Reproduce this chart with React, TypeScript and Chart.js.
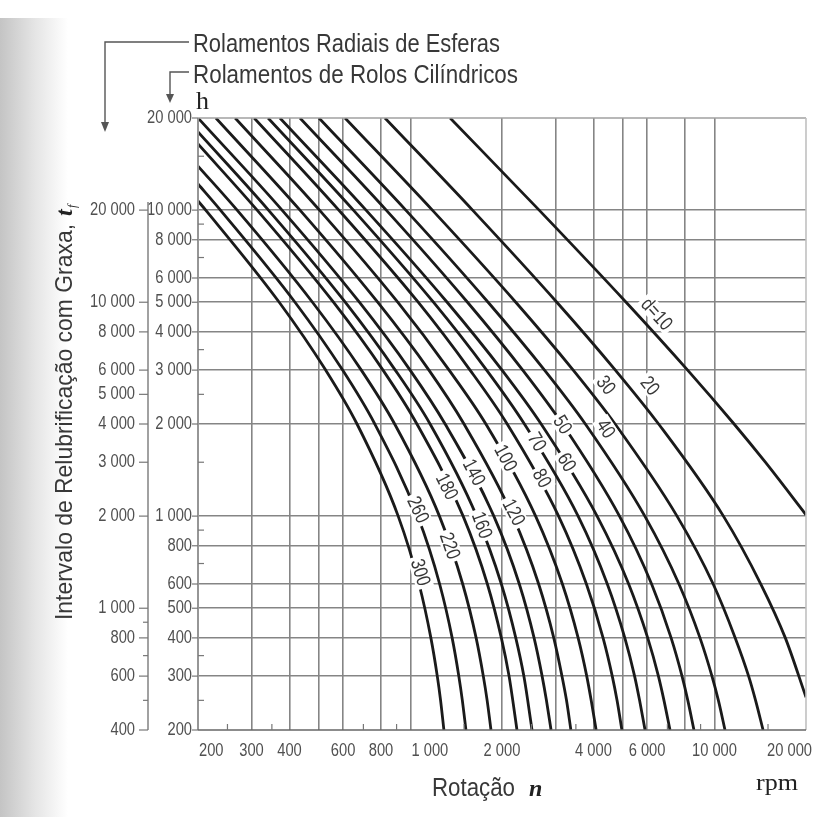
import React, { useEffect, useRef } from "react";
import { Chart, registerables } from "chart.js";

Chart.register(...registerables);

// Curve labels (bearing bore d, mm)
const curveLabels = ["d=10", "20", "30", "40", "50", "60", "70", "80", "100", "120", "140", "160", "180", "220", "260", "300"];

// Each curve: [rotation n (rpm), relubrication interval (h, cylindrical roller scale)]
const curveD10 = [[1350, 20000], [2650, 10000], [5120, 5000], [8160, 3000], [11600, 2000], [14700, 1500], [20000, 1010]];
const curveD20 = [[824, 20000], [1600, 10000], [3030, 5000], [4720, 3000], [6550, 2000], [10700, 1000], [14200, 600], [17100, 400], [20000, 256]];
const curveD30 = [[609, 20000], [1180, 10000], [2220, 5000], [3430, 3000], [4710, 2000], [7530, 1000], [9900, 600], [11700, 400], [12950, 300], [13650, 250], [14450, 200]];
const curveD40 = [[500, 20000], [965, 10000], [1800, 5000], [2760, 3000], [3760, 2000], [5900, 1000], [7640, 600], [8960, 400], [9810, 300], [10300, 250], [10830, 200]];
const curveD50 = [[433, 20000], [832, 10000], [1540, 5000], [2340, 3000], [3160, 2000], [4870, 1000], [6210, 600], [7200, 400], [7820, 300], [8170, 250], [8560, 200]];
const curveD60 = [[372, 20000], [714, 10000], [1320, 5000], [2000, 3000], [2690, 2000], [4110, 1000], [5220, 600], [6030, 400], [6540, 300], [6820, 250], [7140, 200]];
const curveD70 = [[340, 20000], [649, 10000], [1190, 5000], [1780, 3000], [2370, 2000], [3560, 1000], [4440, 600], [5070, 400], [5460, 300], [5670, 250], [5910, 200]];
const curveD80 = [[306, 20000], [581, 10000], [1060, 5000], [1570, 3000], [2080, 2000], [3070, 1000], [3790, 600], [4300, 400], [4610, 300], [4780, 250], [4960, 200]];
const curveD100 = [[265, 20000], [502, 10000], [908, 5000], [1340, 3000], [1770, 2000], [2580, 1000], [3160, 600], [3560, 400], [3800, 300], [3930, 250], [4080, 200]];
const curveD120 = [[229, 20000], [433, 10000], [780, 5000], [1150, 3000], [1500, 2000], [2170, 1000], [2640, 600], [2960, 400], [3150, 300], [3260, 250], [3370, 200]];
const curveD140 = [[200, 20000], [378, 10000], [679, 5000], [997, 3000], [1300, 2000], [1880, 1000], [2280, 600], [2550, 400], [2710, 300], [2800, 250], [2900, 200]];
const curveD160 = [[200, 18000], [341, 10000], [610, 5000], [891, 3000], [1160, 2000], [1650, 1000], [1990, 600], [2220, 400], [2360, 300], [2430, 250], [2510, 200]];
const curveD180 = [[200, 16450], [313, 10000], [558, 5000], [812, 3000], [1050, 2000], [1490, 1000], [1790, 600], [1990, 400], [2110, 300], [2170, 250], [2240, 200]];
const curveD220 = [[200, 13930], [269, 10000], [476, 5000], [689, 3000], [887, 2000], [1245, 1000], [1485, 600], [1644, 400], [1736, 300], [1787, 250], [1840, 200]];
const curveD260 = [[200, 12170], [237, 10000], [417, 5000], [598, 3000], [763, 2000], [1056, 1000], [1247, 600], [1371, 400], [1442, 300], [1481, 250], [1522, 200]];
const curveD300 = [[200, 10710], [212, 10000], [370, 5000], [526, 3000], [667, 2000], [911, 1000], [1067, 600], [1167, 400], [1225, 300], [1256, 250], [1288, 200]];

const curves = [curveD10, curveD20, curveD30, curveD40, curveD50, curveD60, curveD70, curveD80, curveD100, curveD120, curveD140, curveD160, curveD180, curveD220, curveD260, curveD300];

// Where each curve label sits (rpm, h)
const labelRpm = [6470, 6140, 4400, 4400, 3170, 3270, 2610, 2710, 2060, 2190, 1620, 1720, 1320, 1350, 1060, 1080];
const labelHours = [4580, 2670, 2680, 1930, 1990, 1500, 1750, 1330, 1550, 1030, 1390, 935, 1250, 800, 1050, 655];

// Axes
const gridValues = [300, 400, 500, 600, 800, 1000, 2000, 3000, 4000, 5000, 6000, 8000, 10000];
const minorValues = [250, 350, 700, 900, 1500, 2500, 3500, 7000, 9000, 15000];
const xTickValues = [200, 300, 400, 600, 800, 1000, 2000, 4000, 6000, 10000, 20000];
const xTickLabels = ["200", "300", "400", "600", "800", "1 000", "2 000", "4 000", "6 000", "10 000", "20 000"];
const yTickValues = [20000, 10000, 8000, 6000, 5000, 4000, 3000, 2000, 1000, 800, 600, 500, 400, 300, 200];
const yTickLabels = ["20 000", "10 000", "8 000", "6 000", "5 000", "4 000", "3 000", "2 000", "1 000", "800", "600", "500", "400", "300", "200"];
// Radial ball bearing scale (twice the cylindrical roller bearing interval)
const outerTickValues = [20000, 10000, 8000, 6000, 5000, 4000, 3000, 2000, 1000, 800, 600, 400];
const outerTickLabels = ["20 000", "10 000", "8 000", "6 000", "5 000", "4 000", "3 000", "2 000", "1 000", "800", "600", "400"];
const outerMinorValues = [900, 700, 500];
const outerFactor = 2;

const SANS = '"Liberation Sans", Arial, sans-serif';
const SERIF = '"Liberation Serif", "Times New Roman", serif';

function drawText(ctx: CanvasRenderingContext2D, text: string, x: number, y: number, font: string, sx: number, align: string) {
  ctx.save();
  ctx.font = font;
  const w = ctx.measureText(text).width * sx;
  let x0 = x;
  if (align === "center") x0 = x - w / 2;
  else if (align === "right") x0 = x - w;
  ctx.translate(x0, y);
  ctx.scale(sx, 1);
  ctx.textAlign = "left";
  ctx.fillText(text, 0, 0);
  ctx.restore();
  return w;
}

function fitScale(ctx: CanvasRenderingContext2D, text: string, font: string, width: number) {
  ctx.save();
  ctx.font = font;
  const w = ctx.measureText(text).width;
  ctx.restore();
  return width / w;
}

const decorPlugin = {
  id: "decor",
  beforeDraw(chart: any) {
    const ctx = chart.ctx as CanvasRenderingContext2D;
    ctx.save();
    ctx.fillStyle = "#ffffff";
    ctx.fillRect(0, 0, chart.width, chart.height);
    const g = ctx.createLinearGradient(0, 0, 68, 0);
    g.addColorStop(0, "#c4c4c4");
    g.addColorStop(0.5, "#e4e4e4");
    g.addColorStop(1, "#ffffff");
    ctx.fillStyle = g;
    ctx.fillRect(0, 18, 68, chart.height - 18);
    ctx.restore();
  },
  afterDraw(chart: any) {
    const ctx = chart.ctx as CanvasRenderingContext2D;
    const xs = chart.scales.x;
    const ys = chart.scales.y;
    const { left, right, top, bottom } = chart.chartArea;
    ctx.save();

    // frame
    ctx.strokeStyle = "#a0a0a0";
    ctx.lineWidth = 1.6;
    ctx.beginPath();
    ctx.moveTo(left, top);
    ctx.lineTo(right, top);
    ctx.stroke();
    ctx.strokeStyle = "#c0c0c0";
    ctx.beginPath();
    ctx.moveTo(right, top);
    ctx.lineTo(right, bottom);
    ctx.stroke();
    ctx.strokeStyle = "#969696";
    ctx.lineWidth = 2;
    ctx.beginPath();
    ctx.moveTo(left, top);
    ctx.lineTo(left, bottom);
    ctx.stroke();
    ctx.strokeStyle = "#666";
    ctx.lineWidth = 1.6;
    ctx.beginPath();
    ctx.moveTo(left, bottom);
    ctx.lineTo(right, bottom);
    ctx.stroke();

    // minor ticks inside
    ctx.strokeStyle = "#777";
    ctx.lineWidth = 1.2;
    minorValues.forEach((v) => {
      const py = ys.getPixelForValue(v);
      ctx.beginPath();
      ctx.moveTo(left, py);
      ctx.lineTo(left + 6, py);
      ctx.stroke();
      const px = xs.getPixelForValue(v);
      ctx.beginPath();
      ctx.moveTo(px, bottom);
      ctx.lineTo(px, bottom - 6);
      ctx.stroke();
    });

    // tick label font
    const tickFont = `18px ${SANS}`;
    const tsx = fitScale(ctx, "10 000", tickFont, 45);
    ctx.fillStyle = "#505050";
    ctx.textBaseline = "middle";

    // inner y axis
    yTickValues.forEach((v, i) => {
      const py = ys.getPixelForValue(v);
      ctx.strokeStyle = "#777";
      ctx.lineWidth = 1.2;
      ctx.beginPath();
      ctx.moveTo(left - 6, py);
      ctx.lineTo(left, py);
      ctx.stroke();
      drawText(ctx, yTickLabels[i], left - 6, py, tickFont, tsx, "right");
    });

    // outer y axis (ball bearings)
    const ox = 148;
    const oTop = ys.getPixelForValue(outerTickValues[0] / outerFactor) - 8;
    ctx.strokeStyle = "#8a8a8a";
    ctx.lineWidth = 1.6;
    ctx.beginPath();
    ctx.moveTo(ox, oTop);
    ctx.lineTo(ox, bottom);
    ctx.stroke();
    outerTickValues.forEach((v, i) => {
      const py = ys.getPixelForValue(v / outerFactor);
      ctx.strokeStyle = "#777";
      ctx.lineWidth = 1.2;
      ctx.beginPath();
      ctx.moveTo(ox - 9, py);
      ctx.lineTo(ox, py);
      ctx.stroke();
      drawText(ctx, outerTickLabels[i], ox - 13, py, tickFont, tsx, "right");
    });
    outerMinorValues.forEach((v) => {
      const py = ys.getPixelForValue(v / outerFactor);
      ctx.beginPath();
      ctx.moveTo(ox - 5, py);
      ctx.lineTo(ox, py);
      ctx.stroke();
    });

    // x axis labels
    ctx.textBaseline = "alphabetic";
    xTickValues.forEach((v, i) => {
      const px = xs.getPixelForValue(v);
      let align = "center";
      let x = px;
      if (i === 0) { align = "left"; x = px + 1; }
      else if (v === 1000) { align = "left"; x = px + 1; }
      else if (i === xTickValues.length - 1) { align = "right"; x = px + 6; }
      drawText(ctx, xTickLabels[i], x, bottom + 26, tickFont, tsx, align);
    });

    // curve labels
    const labFont = `20px ${SANS}`;
    const lsx = 0.8;
    curveLabels.forEach((lab, i) => {
      const pts = curves[i];
      const lx = xs.getPixelForValue(labelRpm[i]);
      const ly = ys.getPixelForValue(labelHours[i]);
      let ang = Math.PI / 4;
      for (let k = 0; k < pts.length - 1; k++) {
        if (labelHours[i] <= pts[k][1] && labelHours[i] >= pts[k + 1][1]) {
          const x1 = xs.getPixelForValue(pts[k][0]);
          const y1 = ys.getPixelForValue(pts[k][1]);
          const x2 = xs.getPixelForValue(pts[k + 1][0]);
          const y2 = ys.getPixelForValue(pts[k + 1][1]);
          ang = Math.atan2(y2 - y1, x2 - x1);
        }
      }
      ctx.save();
      ctx.translate(lx, ly);
      ctx.rotate(ang);
      ctx.font = labFont;
      const w = ctx.measureText(lab).width * lsx;
      ctx.fillStyle = "#ffffff";
      ctx.fillRect(-w / 2 - 3, -9, w + 6, 18);
      ctx.fillStyle = "#383838";
      ctx.textBaseline = "middle";
      drawText(ctx, lab, 0, 1, labFont, lsx, "center");
      ctx.restore();
    });

    // titles
    ctx.fillStyle = "#383838";
    ctx.textBaseline = "alphabetic";
    const tFont = `26px ${SANS}`;
    const t1 = "Rolamentos Radiais de Esferas";
    const t2 = "Rolamentos de Rolos Cilíndricos";
    drawText(ctx, t1, 193, 52, tFont, fitScale(ctx, t1, tFont, 307), "left");
    drawText(ctx, t2, 193, 83, tFont, fitScale(ctx, t2, tFont, 325), "left");

    // leaders and arrows
    ctx.strokeStyle = "#555";
    ctx.fillStyle = "#555";
    ctx.lineWidth = 1.4;
    ctx.beginPath();
    ctx.moveTo(189, 42);
    ctx.lineTo(105, 42);
    ctx.lineTo(105, 124);
    ctx.stroke();
    ctx.beginPath();
    ctx.moveTo(101, 122);
    ctx.lineTo(109, 122);
    ctx.lineTo(105, 132);
    ctx.closePath();
    ctx.fill();
    ctx.beginPath();
    ctx.moveTo(189, 72);
    ctx.lineTo(170, 72);
    ctx.lineTo(170, 96);
    ctx.stroke();
    ctx.beginPath();
    ctx.moveTo(166, 94);
    ctx.lineTo(174, 94);
    ctx.lineTo(170, 103);
    ctx.closePath();
    ctx.fill();

    // unit h
    ctx.fillStyle = "#222";
    ctx.font = `26px ${SERIF}`;
    ctx.textAlign = "left";
    ctx.fillText("h", 196, 109);

    // y title
    ctx.save();
    ctx.translate(72, 620);
    ctx.rotate(-Math.PI / 2);
    ctx.fillStyle = "#383838";
    const yFont = `24px ${SANS}`;
    const yt = "Intervalo de Relubrificação com Graxa,";
    const yw = drawText(ctx, yt, 0, 0, yFont, fitScale(ctx, yt, yFont, 396), "left");
    ctx.fillStyle = "#222";
    ctx.font = `italic bold 24px ${SERIF}`;
    ctx.fillText("t", yw + 8, 0);
    ctx.font = `italic 12px ${SERIF}`;
    ctx.fillText("f", yw + 16, 4);
    ctx.restore();

    // x title
    ctx.fillStyle = "#383838";
    const xFont = `26px ${SANS}`;
    drawText(ctx, "Rotação", 432, 796, xFont, fitScale(ctx, "Rotação", xFont, 83), "left");
    ctx.fillStyle = "#222";
    ctx.font = `italic bold 24px ${SERIF}`;
    ctx.textAlign = "left";
    ctx.fillText("n", 529, 796);
    drawText(ctx, "rpm", 756, 790, `24px ${SERIF}`, fitScale(ctx, "rpm", `24px ${SERIF}`, 42), "left");

    ctx.restore();
  },
};

export default function App() {
  const ref = useRef<HTMLCanvasElement | null>(null);
  useEffect(() => {
    document.body.style.margin = "0";
    const canvas = ref.current;
    if (!canvas) return;
    const fixedTicks = (scale: any) => {
      scale.ticks = gridValues.map((v) => ({ value: v }));
    };
    const chart = new Chart(canvas, {
      type: "line",
      data: {
        datasets: curves.map((c, i) => ({
          label: curveLabels[i],
          data: c.map((p) => ({ x: p[0], y: p[1] })),
          borderColor: "#1a1a1a",
          borderWidth: 2.8,
          pointRadius: 0,
          fill: false,
          cubicInterpolationMode: "monotone" as const,
        })),
      },
      options: {
        responsive: false,
        animation: false,
        maintainAspectRatio: false,
        layout: { padding: { left: 198, top: 118, right: 10, bottom: 87 } },
        plugins: { legend: { display: false }, tooltip: { enabled: false } },
        scales: {
          x: {
            type: "logarithmic",
            min: 200,
            max: 20000,
            afterBuildTicks: fixedTicks,
            afterFit: (s: any) => { s.height = 0; },
            ticks: { display: false },
            grid: { color: "#858585", lineWidth: 1.6, drawTicks: false },
            border: { display: false },
          },
          y: {
            type: "logarithmic",
            min: 200,
            max: 20000,
            afterBuildTicks: fixedTicks,
            afterFit: (s: any) => { s.width = 0; },
            ticks: { display: false },
            grid: { color: "#858585", lineWidth: 1.6, drawTicks: false },
            border: { display: false },
          },
        },
      },
      plugins: [decorPlugin],
    });
    return () => chart.destroy();
  }, []);
  return (
    <div style={{ width: 816, height: 817 }}>
      <canvas ref={ref} width={816} height={817} style={{ display: "block" }} />
    </div>
  );
}
